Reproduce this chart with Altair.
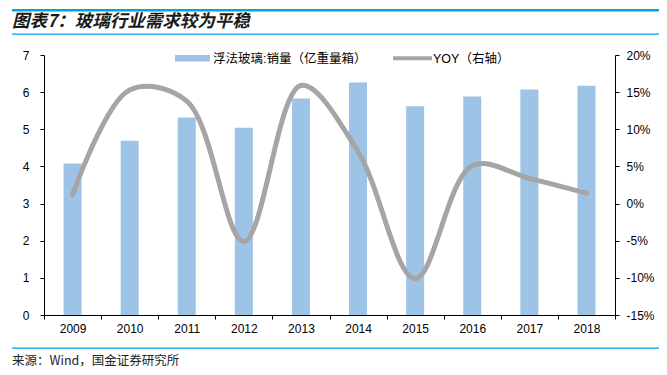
import altair as alt
import pandas as pd

# ---- data ----
years = ["2009", "2010", "2011", "2012", "2013", "2014", "2015", "2016", "2017", "2018"]
sales = [4.08, 4.69, 5.32, 5.04, 5.83, 6.26, 5.62, 5.88, 6.07, 6.17]   # 亿重量箱
yoy = [1.2, 15.3, 13.8, -5.1, 15.9, 7.0, -10.1, 5.1, 3.4, 1.4]          # %
left_ticks = [0, 1, 2, 3, 4, 5, 6, 7]
right_ticks = [-15, -10, -5, 0, 5, 10, 15, 20]

title_text = "图表7：玻璃行业需求较为平稳"
source_text = "来源：Wind，国金证券研究所"
legend_bar = "浮法玻璃:销量（亿重量箱）"
legend_line = "YOY（右轴）"

BAR_COLOR = "#9DC3E6"
LINE_COLOR = "#A5A5A5"
RULE_COLOR = "#00A2E8"
LAT = "Liberation Sans"
CJK = "Liberation Sans, Noto Sans CJK SC"

df = pd.DataFrame({"year": years, "sales": sales, "yoy": yoy})

W, H = 571, 260

xenc = alt.X(
    "year:O",
    scale=alt.Scale(paddingInner=0, paddingOuter=0),
    axis=alt.Axis(
        title=None, labelAngle=0, tickBand="extent", tickSize=4,
        domainColor="black", tickColor="black", labelColor="black",
        labelFont=LAT, labelFontSize=12, labelPadding=4, grid=False,
    ),
)

bars = alt.Chart(df).mark_bar(size=18, color=BAR_COLOR).encode(
    x=xenc,
    y=alt.Y(
        "sales:Q",
        scale=alt.Scale(domain=[0, 7], nice=False, zero=True),
        axis=alt.Axis(
            title=None, values=left_ticks, format="d", tickSize=4,
            domainColor="black", tickColor="black", labelColor="black",
            labelFont=LAT, labelFontSize=12, labelPadding=11, grid=False,
        ),
    ),
)

line = alt.Chart(df).mark_line(
    interpolate="catmull-rom", strokeWidth=5, color=LINE_COLOR, strokeCap="round"
).encode(
    x=alt.X("year:O"),
    y=alt.Y(
        "yoy:Q",
        scale=alt.Scale(domain=[-15, 20], nice=False, zero=False),
        axis=alt.Axis(
            title=None, orient="right", values=right_ticks,
            labelExpr="datum.value + '%'", tickSize=4,
            domainColor="black", tickColor="black", labelColor="black",
            labelFont=LAT, labelFontSize=12, labelPadding=7, grid=False,
        ),
    ),
)

one = pd.DataFrame({"k": [0]})


def hband(y1, y2, x1, x2):
    return alt.Chart(one).mark_rect(color=RULE_COLOR).encode(
        x=alt.value(x1), x2=alt.value(x2), y=alt.value(y1), y2=alt.value(y2)
    )


def label(txt, x, y, size, font=CJK, weight="normal", style="normal", color="black", baseline="middle"):
    return alt.Chart(pd.DataFrame({"t": [txt]})).mark_text(
        align="left", baseline=baseline, fontSize=size, font=font,
        fontWeight=weight, fontStyle=style, color=color,
    ).encode(x=alt.value(x), y=alt.value(y), text="t:N")


deco = [
    hband(-21.5, -20.3, -32, 616),
    hband(292.5, 293.7, -32, 616),
    label(title_text, -32, -28.5, 17.5, font="Noto Sans CJK SC", weight="bold", style="italic",
          color="#1a1a1a", baseline="alphabetic"),
    label(source_text, -32, 305.5, 12.5, font="Noto Sans CJK SC", color="#222222"),
    alt.Chart(one).mark_rect(color=BAR_COLOR).encode(
        x=alt.value(131), x2=alt.value(166), y=alt.value(0), y2=alt.value(6.5)
    ),
    label(legend_bar, 169, 3.5, 12.5),
    alt.Chart(one).mark_rule(color=LINE_COLOR, strokeWidth=4).encode(
        x=alt.value(349), x2=alt.value(388), y=alt.value(3.3)
    ),
    label(legend_line, 389, 3.5, 12.5),
    hband(-46, -43.5, -32, 616),
]

chart = alt.layer(bars, line, *deco).resolve_scale(y="independent").properties(
    width=W, height=H,
    autosize=alt.AutoSizeParams(type="none"),
    padding={"left": 36, "top": 47, "right": 44, "bottom": 52},
    background="white",
).configure_view(stroke=None)

chart.save("out.html", embed_options={"renderer": "svg", "actions": False})
